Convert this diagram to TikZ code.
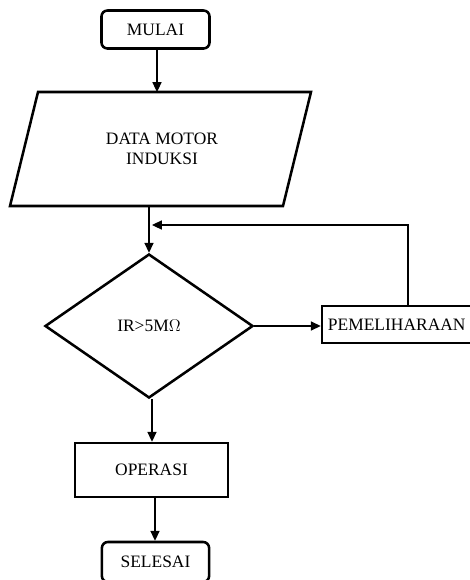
\documentclass[tikz,border=0pt]{standalone}
\usepackage{fontspec}
\setmainfont{Liberation Serif}
\usetikzlibrary{calc,arrows.meta,shapes.geometric}
\tikzset{
	terminal/.style={draw, line width=1.8pt, rounded corners=0.15cm,
			minimum width=2.7cm, minimum height=0.95cm, inner sep=2pt},
	proses/.style={draw, line width=1.8pt, inner sep=2pt},
	keputusan/.style={draw, line width=1.8pt, diamond, aspect=1.45,
			minimum width=5.2cm, minimum height=3.6cm, inner sep=0pt},
	alur/.style={line width=0.8pt, -{Triangle[length=7pt,width=6.5pt]}}
}

\begin{document}
\begin{tikzpicture}[x=0.025cm, y=-0.025cm, font=\fontsize{12.4}{14.5}\selectfont]
		\useasboundingbox (0,0) rectangle (469,580);
		
		\node[terminal] (mulai) at (155.5,29.5) {MULAI};
		
		% data masukan (jajaran genjang)
		\draw[line width=1.8pt, line join=miter] (38,92) -- (311,92) -- (283,206) -- (10,206) -- cycle;
		\node[align=center] (data) at (162,149) {DATA MOTOR\\INDUKSI};
		\coordinate (dataatas) at (157,92);
		\coordinate (databawah) at (152,206);
		
		\node[keputusan] (cek) at (149,326) {IR>5M\(\Omega\)};
		\node[proses, minimum height=0.93cm, text width=4cm, inner xsep=0.15cm,
			align=left] (pelihara) at (408,324.5) {PEMELIHARAAN};
		\node[proses, minimum width=3.83cm, minimum height=1.35cm] (operasi) at (151.5,470) {OPERASI};
		\node[terminal, minimum width=2.68cm, minimum height=1cm] (selesai) at (155.5,562) {SELESAI};
		
		\coordinate (balik) at (152,225);
		
		\draw[alur] (mulai.south -| dataatas) -- (dataatas);
		\draw[alur] (databawah -| cek.north) -- (cek.north);
		\draw[alur] (cek.east) -- (cek.east -| pelihara.west);
		\draw[alur] (pelihara.north) |- (balik);
		\draw[alur] (cek.south -| 152,0) -- (operasi.north -| 152,0);
		\draw[alur] (operasi.south -| 155,0) -- (selesai.north -| 155,0);
	\end{tikzpicture}
\end{document}
